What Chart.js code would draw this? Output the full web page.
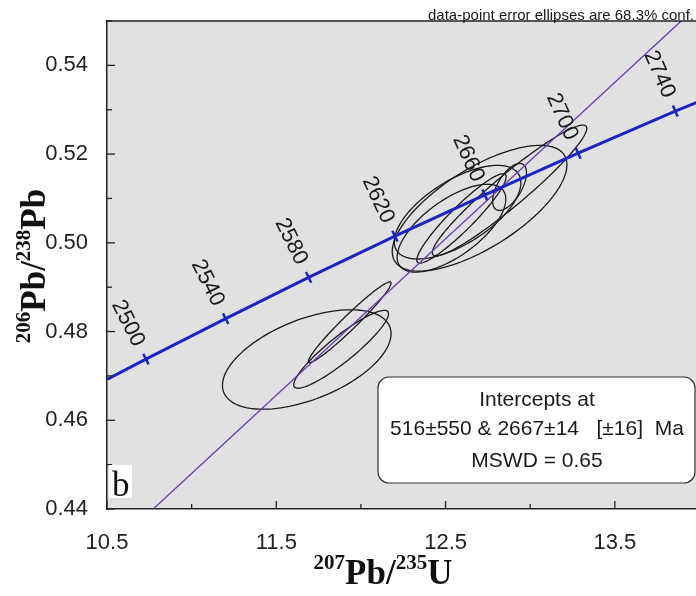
<!DOCTYPE html>
<html>
<head>
<meta charset="utf-8">
<script src="https://cdn.jsdelivr.net/npm/chart.js@4.4.1/dist/chart.umd.min.js"></script>
<style>
  html, body { margin: 0; padding: 0; background: #fff; overflow: hidden; }
  #wrap { width: 696px; height: 596px; overflow: hidden; }
  canvas { display: block; }
</style>
</head>
<body>
<div id="wrap"><canvas id="chart" width="708" height="596"></canvas></div>
<script>
// concordia curve (207Pb/235U vs 206Pb/238U)
const concordiaX = [10.500, 10.730, 11.201, 11.691, 12.201, 12.732, 13.283, 13.857, 14.000];
const concordiaY = [0.4692, 0.4738, 0.4829, 0.4922, 0.5015, 0.5108, 0.5202, 0.5297, 0.5319];

// age marks on the concordia (Ma)
const ageLabels = [2500, 2540, 2580, 2620, 2660, 2700, 2740];
const ageX = [10.730, 11.201, 11.691, 12.201, 12.732, 13.283, 13.857];
const ageY = [0.4738, 0.4829, 0.4922, 0.5015, 0.5108, 0.5202, 0.5297];

// discordia line
const discordiaX = [10.773, 13.892];
const discordiaY = [0.440, 0.550];

// error ellipses: centre, half extent in x / y, correlation
const ellX   = [11.680, 11.883, 11.934, 12.701, 12.878, 12.571, 12.535, 12.878, 12.594];
const ellY   = [0.4737, 0.4760, 0.4821, 0.5078, 0.5118, 0.5069, 0.5033, 0.5126, 0.5055];
const ellSx  = [0.498, 0.280, 0.244, 0.516, 0.456, 0.374, 0.321, 0.100, 0.264];
const ellSy  = [0.01120, 0.00878, 0.00908, 0.01417, 0.01473, 0.01055, 0.0099, 0.00529, 0.01007];
const ellRho = [0.52, 0.91, 0.97, 0.69, 0.95, 0.63, 0.66, 0.60, 0.93];

// tick labels
const xTickLabels = ['10.5', '11.5', '12.5', '13.5'];
const yTickLabels = ['0.44', '0.46', '0.48', '0.50', '0.52', '0.54'];

const BLUE = '#1e24c4';
const PURPLE = '#6a3cb0';
const SANS = '"Liberation Sans", Arial, sans-serif';
const SERIF = '"Liberation Serif", "Times New Roman", serif';

// pixel angle of the concordia at age mark i
function curveAngle(chart, i) {
    const sx = chart.scales.x, sy = chart.scales.y;
    const a = Math.max(0, i - 1), b = Math.min(ageX.length - 1, i + 1);
    const dx = sx.getPixelForValue(ageX[b]) - sx.getPixelForValue(ageX[a]);
    const dy = sy.getPixelForValue(ageY[b]) - sy.getPixelForValue(ageY[a]);
    return Math.atan2(dy, dx);
}

function drawRich(ctx, parts, cx, baseY) {
    const main = 'bold 35px ' + SERIF, sup = 'bold 21px ' + SERIF;
    let total = 0;
    parts.forEach(p => { ctx.font = p[1] ? sup : main; total += ctx.measureText(p[0]).width; });
    let x = cx - total / 2;
    ctx.textAlign = 'left';
    ctx.textBaseline = 'alphabetic';
    parts.forEach(p => {
        ctx.font = p[1] ? sup : main;
        ctx.fillText(p[0], x, p[1] ? baseY - 15 : baseY);
        x += ctx.measureText(p[0]).width;
    });
}

const decor = {
    id: 'decor',
    beforeDraw(chart) {
        const { ctx, chartArea: a } = chart;
        ctx.save();
        ctx.fillStyle = '#fff';
        ctx.fillRect(0, 0, chart.width, chart.height);
        ctx.fillStyle = '#e1e1e1';
        ctx.fillRect(a.left, a.top, a.right - a.left, a.bottom - a.top);
        ctx.restore();
    },
    beforeDatasetsDraw(chart) {
        const { ctx, chartArea: a } = chart;
        const sx = chart.scales.x, sy = chart.scales.y;
        ctx.save();
        ctx.beginPath();
        ctx.rect(a.left, a.top, a.right - a.left, a.bottom - a.top);
        ctx.clip();
        ctx.strokeStyle = '#1a1a1a';
        ctx.lineWidth = 1.3;
        ellX.forEach((cx, i) => {
            const r = ellRho[i], q = Math.sqrt(1 - r * r);
            ctx.beginPath();
            for (let k = 0; k <= 120; k++) {
                const t = k / 120 * Math.PI * 2;
                const px = sx.getPixelForValue(cx + ellSx[i] * Math.cos(t));
                const py = sy.getPixelForValue(ellY[i] + ellSy[i] * (r * Math.cos(t) + q * Math.sin(t)));
                if (k === 0) ctx.moveTo(px, py); else ctx.lineTo(px, py);
            }
            ctx.closePath();
            ctx.stroke();
        });
        ctx.restore();
    },
    afterDatasetsDraw(chart) {
        const { ctx, chartArea: a } = chart;
        const sx = chart.scales.x, sy = chart.scales.y;
        ctx.save();

        // age labels along the concordia
        ctx.fillStyle = '#1a1a1a';
        ctx.font = '22px ' + SANS;
        ctx.textAlign = 'center';
        ctx.textBaseline = 'middle';
        ageLabels.forEach((age, i) => {
            const ang = curveAngle(chart, i);
            const px = sx.getPixelForValue(ageX[i]), py = sy.getPixelForValue(ageY[i]);
            const lx = px + Math.sin(ang) * 40, ly = py - Math.cos(ang) * 40;
            ctx.save();
            ctx.translate(lx, ly);
            ctx.rotate(ang + Math.PI / 2);
            ctx.fillText(String(age), 0, 0);
            ctx.restore();
        });

        // inward tick marks
        ctx.strokeStyle = '#222';
        ctx.lineWidth = 1.3;
        sx.ticks.forEach(t => {
            const px = sx.getPixelForValue(t.value);
            const len = xTickLabels.includes(t.value.toFixed(1)) ? 8 : 5;
            ctx.beginPath(); ctx.moveTo(px, a.bottom); ctx.lineTo(px, a.bottom - len); ctx.stroke();
        });
        sy.ticks.forEach(t => {
            const py = sy.getPixelForValue(t.value);
            const len = yTickLabels.includes(t.value.toFixed(2)) ? 8 : 5;
            ctx.beginPath(); ctx.moveTo(a.left, py); ctx.lineTo(a.left + len, py); ctx.stroke();
        });

        // top frame line
        ctx.lineWidth = 1.5;
        ctx.beginPath(); ctx.moveTo(a.left, a.top); ctx.lineTo(a.right, a.top); ctx.stroke();

        // top note
        ctx.fillStyle = '#1a1a1a';
        ctx.font = '15px ' + SANS;
        ctx.textAlign = 'right';
        ctx.textBaseline = 'alphabetic';
        ctx.fillText('data-point error ellipses are 68.3% conf.', 694, 20);

        // panel letter
        ctx.fillStyle = '#fff';
        ctx.fillRect(a.left + 2, 465, 23, 33);
        ctx.fillStyle = '#111';
        ctx.font = '35px ' + SERIF;
        ctx.textAlign = 'left';
        ctx.fillText('b', a.left + 5, 496);

        // intercept box
        const bx = 378, by = 377, bw = 317, bh = 106, r = 11;
        ctx.beginPath();
        ctx.moveTo(bx + r, by);
        ctx.arcTo(bx + bw, by, bx + bw, by + bh, r);
        ctx.arcTo(bx + bw, by + bh, bx, by + bh, r);
        ctx.arcTo(bx, by + bh, bx, by, r);
        ctx.arcTo(bx, by, bx + bw, by, r);
        ctx.closePath();
        ctx.fillStyle = '#fff';
        ctx.fill();
        ctx.strokeStyle = '#333';
        ctx.lineWidth = 1.2;
        ctx.stroke();
        ctx.fillStyle = '#1a1a1a';
        ctx.font = '21px ' + SANS;
        ctx.textAlign = 'center';
        ctx.fillText('Intercepts at', 537, 406);
        ctx.fillText('516\u00b1550 & 2667\u00b114   [\u00b116]  Ma', 537, 435);
        ctx.fillText('MSWD = 0.65', 537, 467);

        // axis titles
        ctx.fillStyle = '#111';
        drawRich(ctx, [['207', true], ['Pb/', false], ['235', true], ['U', false]], 383, 584);
        ctx.save();
        ctx.translate(45, 266);
        ctx.rotate(-Math.PI / 2);
        drawRich(ctx, [['206', true], ['Pb/', false], ['238', true], ['Pb', false]], 0, 0);
        ctx.restore();

        ctx.restore();
    }
};

new Chart(document.getElementById('chart'), {
    type: 'scatter',
    data: {
        datasets: [
            {
                label: 'Concordia',
                data: concordiaX.map((x, i) => ({ x: x, y: concordiaY[i] })),
                showLine: true,
                borderColor: BLUE,
                borderWidth: 3,
                pointRadius: 0,
                order: 1
            },
            {
                label: 'Age marks',
                data: ageX.map((x, i) => ({ x: x, y: ageY[i] })),
                showLine: false,
                pointStyle: 'line',
                pointRadius: 6,
                pointBorderWidth: 2.5,
                pointBorderColor: BLUE,
                pointRotation: c => curveAngle(c.chart, c.dataIndex) * 180 / Math.PI + 90,
                order: 0
            },
            {
                label: 'Discordia',
                data: discordiaX.map((x, i) => ({ x: x, y: discordiaY[i] })),
                showLine: true,
                borderColor: PURPLE,
                borderWidth: 1.3,
                pointRadius: 0,
                order: 2
            }
        ]
    },
    options: {
        responsive: false,
        animation: false,
        layout: { padding: { top: 21, right: 0, bottom: 0, left: 0 } },
        plugins: { legend: { display: false }, tooltip: { enabled: false } },
        scales: {
            x: {
                type: 'linear',
                min: 10.5,
                max: 14.0,
                grid: { display: false, drawTicks: false },
                border: { display: true, color: '#222', width: 1.5 },
                ticks: {
                    stepSize: 0.5,
                    padding: 21,
                    color: '#222',
                    font: { family: SANS, size: 22 },
                    maxRotation: 0,
                    autoSkip: false,
                    callback: v => xTickLabels.includes(Number(v).toFixed(1)) ? Number(v).toFixed(1) : ''
                },
                afterFit: s => { s.height = 87; s.paddingLeft = 0; s.paddingRight = 0; }
            },
            y: {
                type: 'linear',
                min: 0.44,
                max: 0.55,
                grid: { display: false, drawTicks: false },
                border: { display: true, color: '#222', width: 1.5 },
                ticks: {
                    stepSize: 0.01,
                    padding: 19,
                    color: '#222',
                    font: { family: SANS, size: 22 },
                    autoSkip: false,
                    callback: v => yTickLabels.includes(Number(v).toFixed(2)) ? Number(v).toFixed(2) : ''
                },
                afterFit: s => { s.width = 107; s.paddingTop = 0; s.paddingBottom = 0; }
            }
        }
    },
    plugins: [decor]
});
</script>
</body>
</html>
